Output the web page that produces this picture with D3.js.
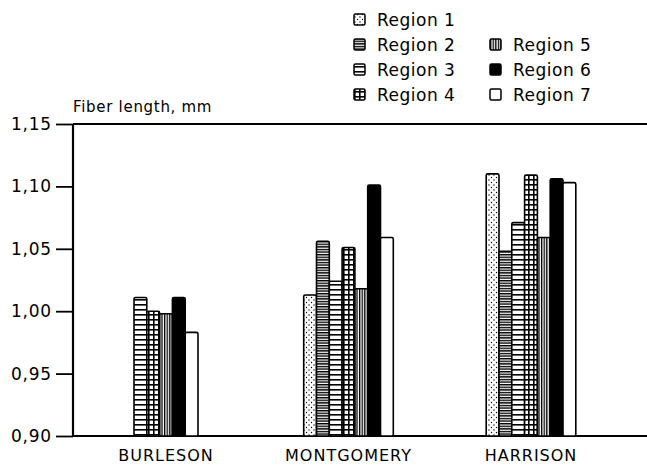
<!DOCTYPE html>
<html>
<head>
<meta charset="utf-8">
<script src="https://cdn.jsdelivr.net/npm/d3@7"></script>
<style>
  body { margin: 0; background: #fff; }
  text { font-family: "DejaVu Sans", sans-serif; fill: #000; }
</style>
</head>
<body>
<div id="chart"></div>
<script>
// data
var counties = ["BURLESON", "MONTGOMERY", "HARRISON"];
var regions = ["Region 1", "Region 2", "Region 3", "Region 4", "Region 5", "Region 6", "Region 7"];
// null = no bar for that region
var burleson   = [null, null, 1.011, 1.000, 0.998, 1.011, 0.983];
var montgomery = [1.013, 1.056, 1.024, 1.051, 1.018, 1.101, 1.059];
var harrison   = [1.110, 1.048, 1.071, 1.109, 1.059, 1.106, 1.103];
var yTicks = [0.90, 0.95, 1.00, 1.05, 1.10, 1.15];

var values = [burleson, montgomery, harrison];

var W = 647, H = 466;
var margin = {top: 124, right: 0, bottom: 30, left: 73},
    width = W - margin.left - margin.right,
    height = H - margin.top - margin.bottom;

var svg = d3.select("#chart")
  .append("svg")
    .attr("width", W)
    .attr("height", H);

// fill patterns, one per region
var defs = svg.append("defs");
function pat(id, w, h) {
  return defs.append("pattern")
    .attr("id", id)
    .attr("patternUnits", "userSpaceOnUse")
    .attr("width", w).attr("height", h);
}
var p1 = pat("p1", 5, 5);
p1.append("rect").attr("width", 5).attr("height", 5).attr("fill", "#fff");
p1.append("circle").attr("cx", 1).attr("cy", 1).attr("r", 0.7).attr("fill", "#000");
p1.append("circle").attr("cx", 3.5).attr("cy", 3.5).attr("r", 0.7).attr("fill", "#000");

var p2 = pat("p2", 4, 2.6);
p2.append("rect").attr("width", 4).attr("height", 2.6).attr("fill", "#fff");
p2.append("rect").attr("width", 4).attr("height", 1.4).attr("fill", "#000");

var p3 = pat("p3", 4, 5);
p3.append("rect").attr("width", 4).attr("height", 5).attr("fill", "#fff");
p3.append("rect").attr("width", 4).attr("height", 1.6).attr("fill", "#000");

var p4 = pat("p4", 5, 5);
p4.append("rect").attr("width", 5).attr("height", 5).attr("fill", "#fff");
p4.append("rect").attr("width", 5).attr("height", 1.6).attr("fill", "#000");
p4.append("rect").attr("width", 1.6).attr("height", 5).attr("fill", "#000");

var p5 = pat("p5", 2.6, 4);
p5.append("rect").attr("width", 2.6).attr("height", 4).attr("fill", "#fff");
p5.append("rect").attr("width", 1.3).attr("height", 4).attr("fill", "#000");

var fills = ["url(#p1)", "url(#p2)", "url(#p3)", "url(#p4)", "url(#p5)", "#000", "#fff"];

var g = svg.append("g")
  .attr("transform", "translate(" + margin.left + "," + margin.top + ")");

// Y axis
var y = d3.scaleLinear()
  .domain([0.90, 1.15])
  .range([height, 0]);

var yAxis = g.append("g")
  .call(d3.axisLeft(y).tickValues(yTicks).tickFormat(d3.format(".2f")).tickSize(17).tickPadding(4));
yAxis.select(".domain").remove();
yAxis.selectAll(".tick line").attr("stroke", "#000").attr("stroke-width", 1.8);
yAxis.selectAll("text")
  .style("font-size", "17px")
  .style("letter-spacing", "0.8px")
  .text(function(d) { return d3.format(".2f")(d).replace(".", ","); });

// frame lines
g.append("line").attr("x1", 0).attr("x2", width).attr("y1", 0).attr("y2", 0)
  .attr("stroke", "#000").attr("stroke-width", 2);
g.append("line").attr("x1", 0).attr("x2", width).attr("y1", height).attr("y2", height)
  .attr("stroke", "#000").attr("stroke-width", 2);
g.append("line").attr("x1", 0).attr("x2", 0).attr("y1", 0).attr("y2", height)
  .attr("stroke", "#000").attr("stroke-width", 2.2);

// X positions of county groups
var x0 = d3.scalePoint()
  .domain(counties)
  .range([93, width - 116]);
var barW = 12.8;

counties.forEach(function(c, i) {
  var present = regions.filter(function(r, j) { return values[i][j] !== null; });
  var cx = x0(c);
  var x1 = d3.scaleBand()
    .domain(present)
    .range([cx - present.length * barW / 2, cx + present.length * barW / 2]);

  g.selectAll(".bar" + i)
    .data(regions.map(function(r, j) { return {r: r, j: j, v: values[i][j]}; })
      .filter(function(d) { return d.v !== null; }))
    .enter()
    .append("rect")
      .attr("x", function(d) { return x1(d.r); })
      .attr("y", function(d) { return y(d.v); })
      .attr("width", x1.bandwidth())
      .attr("height", function(d) { return height - y(d.v); })
      .attr("rx", 1.5)
      .attr("fill", function(d) { return fills[d.j]; })
      .attr("stroke", "#000")
      .attr("stroke-width", 1.6);

  g.append("text")
    .attr("x", cx)
    .attr("y", height + 25)
    .attr("text-anchor", "middle")
    .style("font-size", "16px")
    .style("letter-spacing", "1px")
    .text(c);
});

// axis title
svg.append("text")
  .attr("x", 73)
  .attr("y", 112)
  .style("font-size", "15px")
  .style("letter-spacing", "0.7px")
  .text("Fiber length, mm");

// legend, two columns
var legendPos = [[354, 26], [354, 51], [354, 76], [354, 101], [490, 51], [490, 76], [490, 101]];
var legend = svg.selectAll(".legend")
  .data(regions)
  .enter()
  .append("g")
    .attr("transform", function(d, i) { return "translate(" + legendPos[i][0] + "," + legendPos[i][1] + ")"; });
legend.append("rect")
  .attr("x", 0).attr("y", -12)
  .attr("width", 11).attr("height", 11)
  .attr("rx", 1.5)
  .attr("fill", function(d, i) { return fills[i]; })
  .attr("stroke", "#000")
  .attr("stroke-width", 1.5);
legend.append("text")
  .attr("x", 23)
  .attr("y", 0)
  .style("font-size", "17px")
  .style("letter-spacing", "0.5px")
  .text(function(d) { return d; });
</script>
</body>
</html>
